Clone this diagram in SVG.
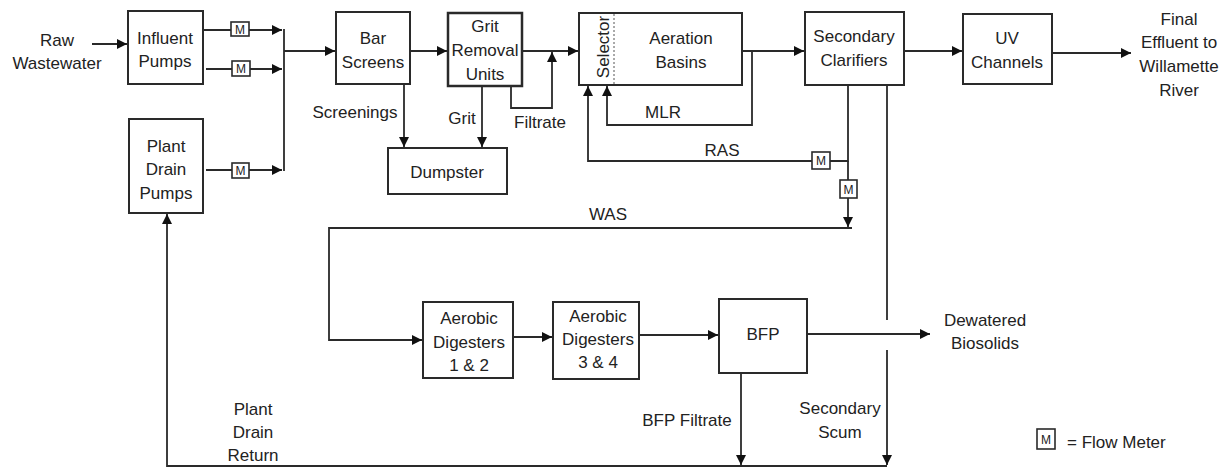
<svg xmlns="http://www.w3.org/2000/svg" width="1231" height="469" viewBox="0 0 1231 469">
<style>
text{font-family:"Liberation Sans",Arial,sans-serif;font-size:17px;fill:#222;text-anchor:middle;}
.box{fill:#fff;stroke:#2a2a2a;stroke-width:2;}
.ln{fill:none;stroke:#2a2a2a;stroke-width:1.8;}
.m rect{fill:#fff;stroke:#2a2a2a;stroke-width:1.6;}
.m text{font-size:12px;}
</style>
<defs>
<marker id="ah" markerUnits="userSpaceOnUse" markerWidth="10" markerHeight="10" viewBox="0 0 10 10" refX="10" refY="5" orient="auto">
<path d="M0,0 L10,5 L0,10 z" fill="#111"/>
</marker>
</defs>
<g id="connectors">
<path class="ln" d="M92,44 H127" marker-end="url(#ah)"/>
<path class="ln" d="M203,30 H282" marker-end="url(#ah)"/>
<path class="ln" d="M206,69 H282" marker-end="url(#ah)"/>
<path class="ln" d="M206,170 H282" marker-end="url(#ah)"/>
<path class="ln" d="M284,29 V171"/>
<path class="ln" d="M284,51 H335" marker-end="url(#ah)"/>
<path class="ln" d="M410,51 H447" marker-end="url(#ah)"/>
<path class="ln" d="M404,84 V147" marker-end="url(#ah)"/>
<path class="ln" d="M482,86 V147" marker-end="url(#ah)"/>
<path class="ln" d="M522,51 H578" marker-end="url(#ah)"/>
<path class="ln" d="M511,86 V108 H552 V52" marker-end="url(#ah)"/>
<path class="ln" d="M742,51 H804" marker-end="url(#ah)"/>
<path class="ln" d="M752,51 V125 H607 V86" marker-end="url(#ah)"/>
<path class="ln" d="M848,85 V161 H588 V86" marker-end="url(#ah)"/>
<path class="ln" d="M848,161 V227" marker-end="url(#ah)"/>
<path class="ln" d="M852,228 H329 V340 H422" marker-end="url(#ah)"/>
<path class="ln" d="M513,337 H552" marker-end="url(#ah)"/>
<path class="ln" d="M639,335 H718" marker-end="url(#ah)"/>
<path class="ln" d="M807,334 H930" marker-end="url(#ah)"/>
<path class="ln" d="M887,85 V320"/>
<path class="ln" d="M887,350 V465" marker-end="url(#ah)"/>
<path class="ln" d="M741,373 V465" marker-end="url(#ah)"/>
<path class="ln" d="M887,466 H167 V214" marker-end="url(#ah)"/>
<path class="ln" d="M904,51 H962" marker-end="url(#ah)"/>
<path class="ln" d="M1052,53 H1131" marker-end="url(#ah)"/>
</g>
<g id="meters">
<g class="m"><rect x="231" y="22" width="18" height="14"/><text x="240" y="33.5">M</text></g>
<g class="m"><rect x="232" y="61" width="18" height="15"/><text x="241" y="73">M</text></g>
<g class="m"><rect x="232" y="163" width="17" height="15"/><text x="240.5" y="175">M</text></g>
<g class="m"><rect x="812" y="152" width="18" height="17"/><text x="821" y="165">M</text></g>
<g class="m"><rect x="840" y="180" width="17" height="18"/><text x="848.5" y="194">M</text></g>
</g>
<g id="raw-wastewater"><text x="57" y="46">Raw</text><text x="57" y="69">Wastewater</text></g>
<g id="influent-pumps"><rect class="box" x="128" y="11" width="75" height="73"/><text x="165" y="44">Influent</text><text x="165" y="67">Pumps</text></g>
<g id="plant-drain-pumps"><rect class="box" x="129" y="119" width="74" height="94"/><text x="166" y="152">Plant</text><text x="166" y="175">Drain</text><text x="166" y="199">Pumps</text></g>
<g id="bar-screens"><rect class="box" x="336" y="12" width="74" height="72"/><text x="373" y="44">Bar</text><text x="373" y="68">Screens</text></g>
<g id="screenings-label"><text x="355" y="118">Screenings</text></g>
<g id="grit-removal"><rect class="box" x="448" y="13" width="74" height="73" style="stroke-width:2.5"/><text x="485" y="32">Grit</text><text x="485" y="56">Removal</text><text x="485" y="80">Units</text></g>
<g id="grit-label"><text x="462" y="124">Grit</text></g>
<g id="filtrate-label"><text x="540" y="128">Filtrate</text></g>
<g id="dumpster"><rect class="box" x="388" y="148" width="119" height="46"/><text x="447" y="178">Dumpster</text></g>
<g id="aeration-basins"><rect class="box" x="579" y="13" width="163" height="72"/><line x1="614" y1="14" x2="614" y2="84" stroke="#555" stroke-width="1" stroke-dasharray="2,2"/><text transform="translate(609,47) rotate(-90)">Selector</text><text x="681" y="44">Aeration</text><text x="681" y="68">Basins</text></g>
<g id="mlr-label"><text x="663" y="118">MLR</text></g>
<g id="ras-label"><text x="722" y="156">RAS</text></g>
<g id="secondary-clarifiers"><rect class="box" x="805" y="12" width="99" height="73"/><text x="854" y="42">Secondary</text><text x="854" y="66">Clarifiers</text></g>
<g id="uv-channels"><rect class="box" x="963" y="14" width="89" height="70"/><text x="1007" y="44">UV</text><text x="1007" y="68">Channels</text></g>
<g id="final-effluent"><text x="1179" y="25">Final</text><text x="1179" y="48">Effluent to</text><text x="1179" y="72">Willamette</text><text x="1179" y="96">River</text></g>
<g id="was-label"><text x="608" y="220">WAS</text></g>
<g id="aerobic-digesters-12"><rect class="box" x="423" y="302" width="90" height="76"/><text x="469" y="324">Aerobic</text><text x="469" y="348">Digesters</text><text x="469" y="371">1 &amp; 2</text></g>
<g id="aerobic-digesters-34"><rect class="box" x="553" y="302" width="86" height="77"/><text x="598" y="322">Aerobic</text><text x="598" y="345">Digesters</text><text x="598" y="368">3 &amp; 4</text></g>
<g id="bfp"><rect class="box" x="719" y="299" width="88" height="74"/><text x="763" y="340">BFP</text></g>
<g id="dewatered-biosolids"><text x="985" y="326">Dewatered</text><text x="985" y="349">Biosolids</text></g>
<g id="bfp-filtrate-label"><text x="687" y="426">BFP Filtrate</text></g>
<g id="secondary-scum-label"><text x="840" y="414">Secondary</text><text x="840" y="438">Scum</text></g>
<g id="plant-drain-return-label"><text x="253" y="415">Plant</text><text x="253" y="438">Drain</text><text x="253" y="461">Return</text></g>
<g id="legend"><g class="m"><rect x="1037" y="429" width="18" height="20"/><text x="1046" y="444">M</text></g><text x="1067" y="448" style="text-anchor:start">= Flow Meter</text></g>
</svg>
